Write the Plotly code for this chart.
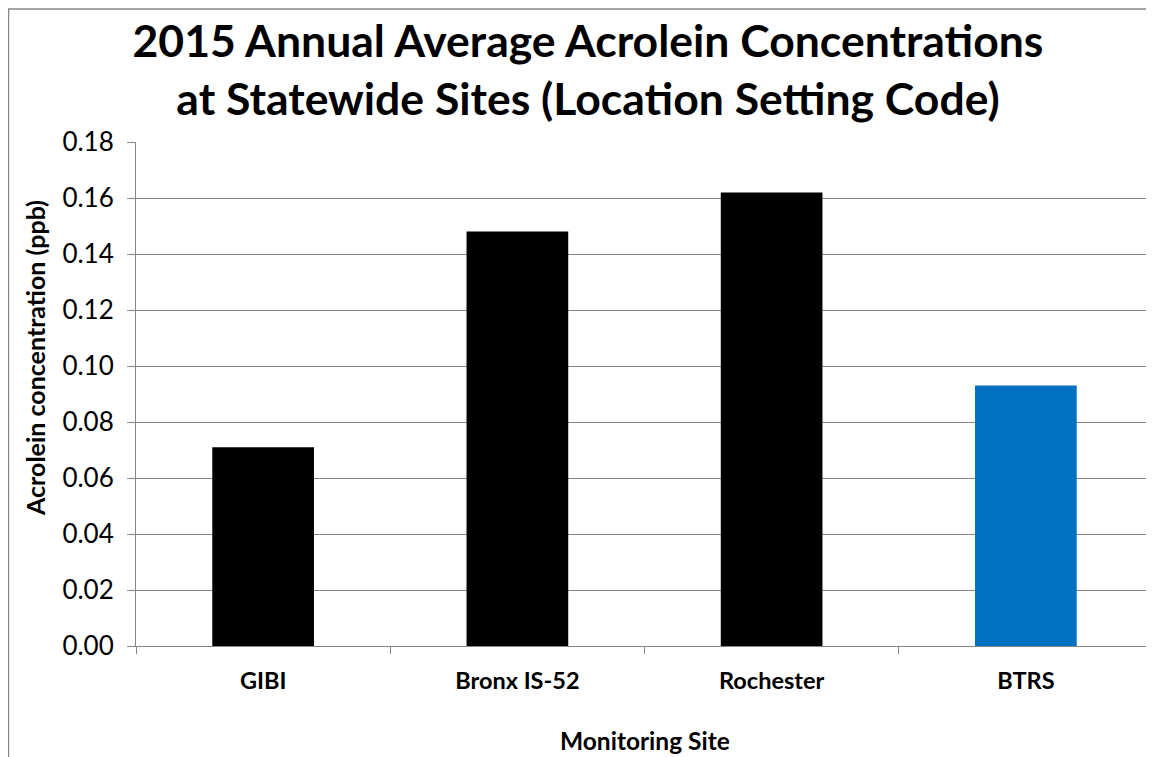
import plotly.graph_objects as go

# values
sites = ["GIBI", "Bronx IS-52", "Rochester", "BTRS"]
acrolein_ppb = [0.071, 0.148, 0.162, 0.093]
bar_colors = ["#000000", "#000000", "#000000", "#0070C0"]
y_ticks = [0.00, 0.02, 0.04, 0.06, 0.08, 0.10, 0.12, 0.14, 0.16, 0.18]

# the page body has an 8px margin, so the figure is a bit smaller than the window
OFF = 8
W, H = 1154 - OFF, 757 - OFF
L, R, T, B = 136 - OFF, 1, 142 - OFF, 757 - 646
plot_w = W - L - R
plot_h = H - T - B

GRID = "#868686"
FONT = "Lato"


def px_x(x):
    # window pixel column -> paper coordinate
    return (x - OFF - L) / plot_w


def px_y(y):
    # window pixel row -> paper coordinate
    return (H - B - (y - OFF)) / plot_h


fig = go.Figure()
fig.add_trace(go.Bar(
    x=sites,
    y=acrolein_ppb,
    marker=dict(color=bar_colors, line=dict(width=0)),
    hovertemplate="%{x}: %{y:.3f} ppb<extra></extra>",
))

fig.update_layout(
    width=W,
    height=H,
    margin=dict(l=L, r=R, t=T, b=B, autoexpand=False),
    paper_bgcolor="white",
    plot_bgcolor="white",
    showlegend=False,
    bargap=0.6,
    font=dict(family=FONT, color="black"),
    title=dict(
        text="<b>2015 Annual Average Acrolein Concentrations<br>at Statewide Sites (Location Setting Code)</b>",
        font=dict(family=FONT, size=44.5, color="black"),
        xref="container", x=(588 - OFF) / W, xanchor="center",
        yref="container", y=1 - (57 - OFF) / H, yanchor="middle",
    ),
)

fig.update_yaxes(
    range=[0, 0.18],
    tickvals=y_ticks,
    tickformat=".2f",
    tickfont=dict(family=FONT, size=26, color="black"),
    showgrid=True, gridcolor=GRID, gridwidth=1,
    showline=True, linecolor=GRID, linewidth=1,
    ticks="outside", ticklen=8, tickcolor=GRID,
    ticklabelstandoff=8,
    zeroline=False,
)

fig.update_xaxes(
    range=[-0.5, 3.5],
    tickfont=dict(family=FONT, size=23.5, color="black"),
    tickprefix="<b>", ticksuffix="</b>",
    showgrid=False,
    showline=True, linecolor=GRID, linewidth=1,
    ticks="outside", ticklen=7, tickcolor=GRID,
    tickson="boundaries",
    ticklabelstandoff=14,
)

# axis titles
fig.add_annotation(
    text="<b>Acrolein concentration (ppb)</b>",
    xref="paper", yref="paper", x=px_x(35), y=px_y(358),
    xanchor="center", yanchor="middle", textangle=-90, showarrow=False,
    font=dict(family=FONT, size=25, color="black"),
)
fig.add_annotation(
    text="<b>Monitoring Site</b>",
    xref="paper", yref="paper", x=0.5, y=px_y(740),
    xanchor="center", yanchor="middle", showarrow=False,
    font=dict(family=FONT, size=24.5, color="black"),
)

# chart-area border (cropped at right and bottom in the reference)
fig.add_shape(
    type="rect", xref="paper", yref="paper",
    x0=px_x(8.5), x1=px_x(1154 + 20), y0=px_y(757 + 20), y1=px_y(9),
    line=dict(color=GRID, width=1.5), fillcolor="rgba(0,0,0,0)", layer="below",
)

fig.write_html("out.html")
